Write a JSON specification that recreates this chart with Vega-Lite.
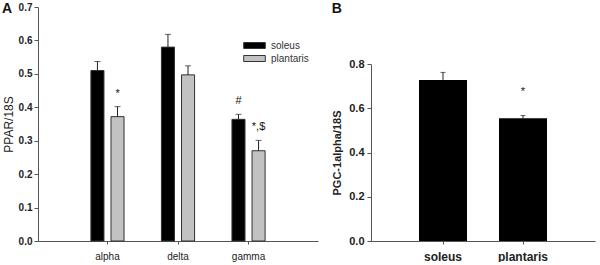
{
  "$schema": "https://vega.github.io/schema/vega-lite/v6.json",
  "padding": {"left": 2, "top": 2, "right": 3, "bottom": 0},
  "background": "white",
  "spacing": 13,
  "config": {
    "view": {"stroke": null},
    "font": "Liberation Sans",
    "axis": {"domainColor": "#555", "tickColor": "#555", "labelColor": "#222", "titleColor": "#222", "grid": false}
  },
  "datasets": {
    "ppar": [
      {"gene": "alpha", "tissue": "soleus", "value": 0.51, "upper": 0.537, "label": ""},
      {"gene": "alpha", "tissue": "plantaris", "value": 0.372, "upper": 0.402, "label": "*"},
      {"gene": "delta", "tissue": "soleus", "value": 0.58, "upper": 0.618, "label": ""},
      {"gene": "delta", "tissue": "plantaris", "value": 0.497, "upper": 0.524, "label": ""},
      {"gene": "gamma", "tissue": "soleus", "value": 0.364, "upper": 0.379, "label": "#"},
      {"gene": "gamma", "tissue": "plantaris", "value": 0.27, "upper": 0.301, "label": "*,$"}
    ],
    "pgc": [
      {"tissue": "soleus", "value": 0.728, "upper": 0.762, "label": ""},
      {"tissue": "plantaris", "value": 0.555, "upper": 0.567, "label": "*"}
    ]
  },
  "hconcat": [
    {
      "width": 280,
      "height": 234,
      "title": {"text": "A", "anchor": "start", "frame": "bounds", "orient": "top", "offset": -14, "fontSize": 14, "fontWeight": "bold", "font": "Liberation Sans", "color": "#111"},
      "data": {"name": "ppar"},
      "encoding": {
        "x": {"field": "gene", "type": "nominal", "sort": ["alpha", "delta", "gamma"],
              "scale": {"paddingInner": 0.53, "paddingOuter": 0.75},
              "axis": {"title": null, "labelAngle": 0, "labelFontSize": 10, "tickSize": 3, "labelPadding": 7}},
        "xOffset": {"field": "tissue", "type": "nominal", "sort": ["soleus", "plantaris"],
                    "scale": {"paddingInner": 0.35, "paddingOuter": 0}}
      },
      "layer": [
        {
          "mark": {"type": "bar", "stroke": "#333", "strokeWidth": 1},
          "encoding": {
            "y": {"field": "value", "type": "quantitative",
                  "scale": {"domain": [0, 0.7], "nice": false},
                  "axis": {"title": "PPAR/18S", "titleFontSize": 12, "titleFontWeight": "normal", "titlePadding": 3,
                           "values": [0, 0.1, 0.2, 0.3, 0.4, 0.5, 0.6, 0.7], "format": ".1f", "labelOverlap": false,
                           "labelFontSize": 10, "labelFontWeight": "bold", "tickSize": 4, "labelPadding": 2}},
            "color": {"field": "tissue", "type": "nominal", "sort": ["soleus", "plantaris"],
                      "scale": {"domain": ["soleus", "plantaris"], "range": ["#000000", "#c2c2c2"]},
                      "legend": {"title": null, "orient": "none", "legendX": 210, "legendY": 32, "padding": 0,
                                 "symbolType": "M-1.8,-0.5H1.8V0.5H-1.8Z", "symbolSize": 144,
                                 "symbolStrokeColor": "#333", "symbolStrokeWidth": 1,
                                 "labelOffset": 10, "labelFontSize": 10, "labelColor": "#333", "rowPadding": 1}}
          }
        },
        {
          "mark": {"type": "rule", "color": "#222", "strokeWidth": 1},
          "encoding": {
            "y": {"field": "value", "type": "quantitative",
                  "axis": {"title": "PPAR/18S", "titleFontSize": 12, "titleFontWeight": "normal", "titlePadding": 3,
                           "values": [0, 0.1, 0.2, 0.3, 0.4, 0.5, 0.6, 0.7], "format": ".1f", "labelOverlap": false,
                           "labelFontSize": 10, "labelFontWeight": "bold", "tickSize": 4, "labelPadding": 2}},
            "y2": {"field": "upper"}}
        },
        {
          "mark": {"type": "tick", "color": "#222", "size": 6, "thickness": 1},
          "encoding": {
            "y": {"field": "upper", "type": "quantitative",
                  "axis": {"title": "PPAR/18S", "titleFontSize": 12, "titleFontWeight": "normal", "titlePadding": 3,
                           "values": [0, 0.1, 0.2, 0.3, 0.4, 0.5, 0.6, 0.7], "format": ".1f", "labelOverlap": false,
                           "labelFontSize": 10, "labelFontWeight": "bold", "tickSize": 4, "labelPadding": 2}}}
        },
        {
          "mark": {"type": "text", "dy": -13, "fontSize": 11, "color": "#111", "baseline": "middle"},
          "encoding": {
            "y": {"field": "upper", "type": "quantitative",
                  "axis": {"title": "PPAR/18S", "titleFontSize": 12, "titleFontWeight": "normal", "titlePadding": 3,
                           "values": [0, 0.1, 0.2, 0.3, 0.4, 0.5, 0.6, 0.7], "format": ".1f", "labelOverlap": false,
                           "labelFontSize": 10, "labelFontWeight": "bold", "tickSize": 4, "labelPadding": 2}},
            "text": {"field": "label"}}
        }
      ]
    },
    {
      "width": 224,
      "height": 234,
      "title": {"text": "B", "anchor": "start", "frame": "bounds", "orient": "top", "offset": -9, "fontSize": 14, "fontWeight": "bold", "font": "Liberation Sans", "color": "#111"},
      "data": {"name": "pgc"},
      "encoding": {
        "x": {"field": "tissue", "type": "nominal", "sort": ["soleus", "plantaris"],
              "scale": {"paddingInner": 0.4, "paddingOuter": 0.6},
              "axis": {"title": null, "labelAngle": 0, "labelFontSize": 12, "labelFontWeight": "bold", "tickSize": 3, "labelPadding": 7}}
      },
      "layer": [
        {
          "mark": {"type": "bar", "color": "#000000"},
          "encoding": {
            "y": {"field": "value", "type": "quantitative",
                  "scale": {"domain": [0, 0.8], "nice": false, "range": [234, 57]},
                  "axis": {"title": "PGC-1alpha/18S", "titleFontSize": 11, "titleFontWeight": "bold", "titlePadding": 6,
                           "values": [0, 0.2, 0.4, 0.6, 0.8], "format": ".1f", "labelOverlap": false,
                           "labelFontSize": 11, "labelFontWeight": "bold", "tickSize": 4, "labelPadding": 3}}
          }
        },
        {
          "mark": {"type": "rule", "color": "#222", "strokeWidth": 1},
          "encoding": {"y": {"field": "value", "type": "quantitative"}, "y2": {"field": "upper"}}
        },
        {
          "mark": {"type": "tick", "color": "#222", "size": 5, "thickness": 1},
          "encoding": {"y": {"field": "upper", "type": "quantitative"}}
        },
        {
          "mark": {"type": "text", "dy": -24, "fontSize": 11, "color": "#111", "baseline": "middle"},
          "encoding": {"y": {"field": "upper", "type": "quantitative"}, "text": {"field": "label"}}
        }
      ]
    }
  ]
}
